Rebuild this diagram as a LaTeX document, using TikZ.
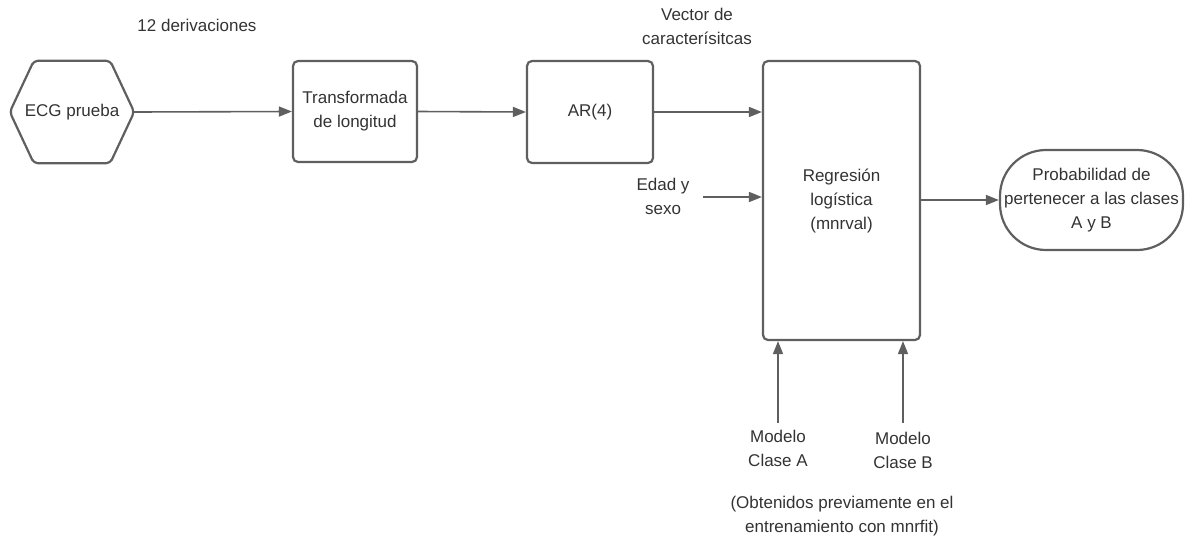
\documentclass[tikz,border=0pt]{standalone}
\usepackage{fontspec}
\setmainfont{Liberation Sans}
\usetikzlibrary{arrows.meta}
\definecolor{lineg}{HTML}{5F5F5F}
\definecolor{txtg}{HTML}{333333}
\tikzset{
  boxst/.style={draw=lineg, line width=2.2pt, rounded corners=5pt, fill=white, text=txtg, align=center, inner sep=0pt},
  lbl/.style={text=txtg, align=center, inner sep=0pt},
  conn/.style={draw=lineg, line width=1.6pt, -{Triangle[length=13pt,width=10pt]}},
}
\begin{document}
\begin{tikzpicture}[x=1pt,y=-1pt, font=\fontsize{17}{24}\selectfont]
\useasboundingbox (0,0) rectangle (1185,539);
% hexagon
\node[lbl, minimum width=124pt, minimum height=102pt] (ecg) at (72,112) {ECG prueba};
\draw[draw=lineg, line width=2.2pt, rounded corners=4pt]
  (ecg.west) -- ([xshift=24pt]ecg.north west) -- ([xshift=-24pt]ecg.north east)
  -- (ecg.east) -- ([xshift=-24pt]ecg.south east) -- ([xshift=24pt]ecg.south west) -- cycle;
\node[boxst, minimum width=124pt, minimum height=101pt] (tl) at (355,111.5) {Transformada\\de longitud};
\node[boxst, minimum width=126pt, minimum height=102pt] (ar) at (590,112) {AR(4)};
\node[boxst, minimum width=157pt, minimum height=279pt] (rl) at (841.5,200.5) {Regresión\\logística\\(mnrval)};
\node[boxst, rounded corners=46pt, minimum width=183pt, minimum height=100pt] (pr) at (1091.5,200) {Probabilidad de\\pertenecer a las clases\\A y B};
% labels
\node[lbl] (der) at (197,25) {12 derivaciones};
\node[lbl] (vec) at (697,26) {Vector de\\caracterísitcas};
\node[lbl] (eds) at (663,196) {Edad y\\sexo};
\node[lbl] (ma) at (778,448) {Modelo\\Clase A};
\node[lbl] (mb) at (903,450) {Modelo\\Clase B};
\node[lbl] (obt) at (842,516) {(Obtenidos previamente en el\\entrenamiento con mnrfit)};
% connector free ends
\coordinate (edst) at (703,197);
\coordinate (mast) at (778,423);
\coordinate (mbst) at (903,423);
% connectors
\draw[conn] (ecg.east) -- (tl.west);
\draw[conn] (tl.east) -- (ar.west);
\draw[conn] (ar.east) -- (ar.east -| rl.west);
\draw[conn] (edst) -- (edst -| rl.west);
\draw[conn] (rl.east |- pr.west) -- (pr.west);
\draw[conn] (mast) -- (mast |- rl.south);
\draw[conn] (mbst) -- (mbst |- rl.south);
\end{tikzpicture}
\end{document}
